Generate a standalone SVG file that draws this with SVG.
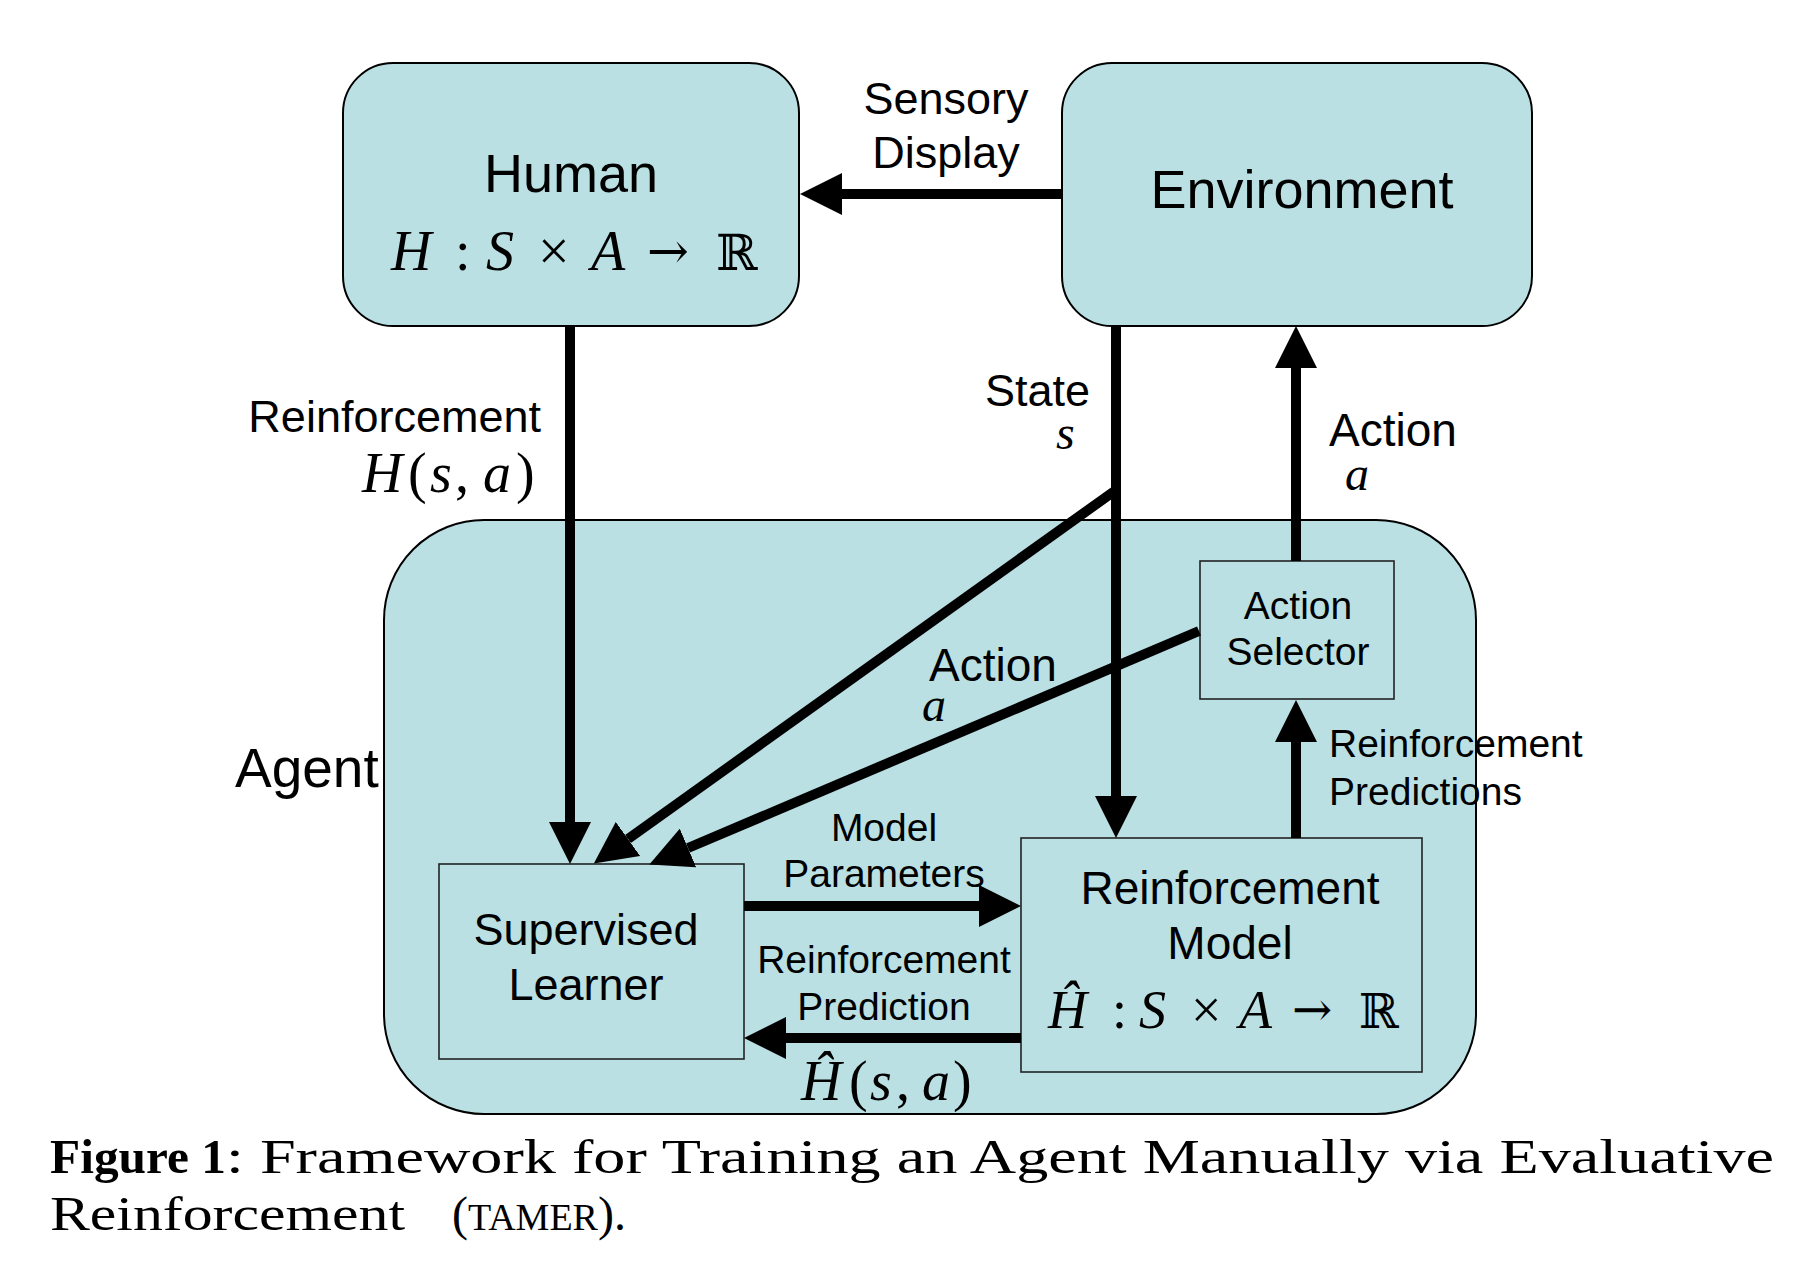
<svg xmlns="http://www.w3.org/2000/svg" width="1811" height="1274" viewBox="0 0 1811 1274">
<style>
.box{fill:#bae0e3;stroke:#000;stroke-width:2}
.ibox{fill:#bae0e3;stroke:#222;stroke-width:1.6}
.sans{font-family:"Liberation Sans",Arial,sans-serif;fill:#000}
.m{font-family:"Liberation Serif","Times New Roman",serif;font-style:italic;fill:#000}
.mu{font-family:"Liberation Serif","Times New Roman",serif;font-style:normal;fill:#000}
.bb{font-family:"DejaVu Serif",serif;font-style:normal;fill:#000}
.cap{font-family:"Liberation Serif","Times New Roman",serif;fill:#000;font-size:48px}
.ln{stroke:#000;stroke-width:10;fill:none}
</style>
<defs>
<marker id="ah" markerUnits="userSpaceOnUse" viewBox="0 0 42 42" markerWidth="42" markerHeight="42" refX="0" refY="21" orient="auto">
<path d="M0,0 L42,21 L0,42 z" fill="#000"/>
</marker>
</defs>

<g id="agent">
<rect class="box" x="384" y="520" width="1092" height="594" rx="100" ry="100"/>
<text class="sans" x="235" y="787" font-size="55">Agent</text>
</g>

<g id="human">
<rect class="box" x="343" y="63" width="456" height="263" rx="50" ry="50"/>
<text class="sans" x="571" y="192" font-size="54" text-anchor="middle">Human</text>
<text font-size="56"><tspan class="m" x="391" y="270">H</tspan><tspan class="mu" x="455" y="270">:</tspan><tspan class="m" x="486" y="270">S</tspan><tspan class="mu" x="538" y="270">×</tspan><tspan class="m" x="591" y="270">A</tspan><tspan class="bb" x="647" y="268" font-size="50">→</tspan><tspan class="bb" x="716" y="270" font-size="50">ℝ</tspan></text>
</g>

<g id="environment">
<rect class="box" x="1062" y="63" width="470" height="263" rx="50" ry="50"/>
<text class="sans" x="1302" y="208" font-size="54" text-anchor="middle">Environment</text>
</g>

<g id="action-selector">
<rect class="ibox" x="1200" y="561" width="194" height="138"/>
<text class="sans" x="1298" y="619" font-size="39" text-anchor="middle">Action</text>
<text class="sans" x="1298" y="665" font-size="39" text-anchor="middle">Selector</text>
</g>

<g id="supervised-learner">
<rect class="ibox" x="439" y="864" width="305" height="195"/>
<text class="sans" x="586" y="945" font-size="45" text-anchor="middle">Supervised</text>
<text class="sans" x="586" y="1000" font-size="45" text-anchor="middle">Learner</text>
</g>

<g id="reinforcement-model">
<rect class="ibox" x="1021" y="838" width="401" height="234"/>
<text class="sans" x="1230" y="904" font-size="46" text-anchor="middle">Reinforcement</text>
<text class="sans" x="1230" y="959" font-size="46" text-anchor="middle">Model</text>
<text font-size="54"><tspan class="m" x="1048" y="1028">Ĥ</tspan><tspan class="mu" x="1112" y="1028">:</tspan><tspan class="m" x="1139" y="1028">S</tspan><tspan class="mu" x="1191" y="1028">×</tspan><tspan class="m" x="1239" y="1028">A</tspan><tspan class="bb" x="1292" y="1026" font-size="48">→</tspan><tspan class="bb" x="1359" y="1028" font-size="48">ℝ</tspan></text>
</g>

<g id="connectors">
<line class="ln" x1="1062" y1="194" x2="842" y2="194" marker-end="url(#ah)"/>
<line class="ln" x1="570" y1="326" x2="570" y2="822" marker-end="url(#ah)"/>
<line class="ln" x1="1116" y1="326" x2="1116" y2="796" marker-end="url(#ah)"/>
<line class="ln" x1="1116" y1="490" x2="628" y2="839" marker-end="url(#ah)"/>
<line class="ln" x1="1199" y1="631" x2="688" y2="848" marker-end="url(#ah)"/>
<line class="ln" x1="1296" y1="561" x2="1296" y2="368" marker-end="url(#ah)"/>
<line class="ln" x1="1296" y1="838" x2="1296" y2="742" marker-end="url(#ah)"/>
<line class="ln" x1="744" y1="906" x2="979" y2="906" marker-end="url(#ah)"/>
<line class="ln" x1="1021" y1="1038" x2="786" y2="1038" marker-end="url(#ah)"/>
</g>

<g id="labels">
<text class="sans" x="946" y="114" font-size="45" text-anchor="middle">Sensory</text>
<text class="sans" x="946" y="168" font-size="45" text-anchor="middle">Display</text>
<text class="sans" x="541" y="432" font-size="45" text-anchor="end">Reinforcement</text>
<text font-size="56"><tspan class="m" x="362" y="492">H</tspan><tspan class="mu" x="408" y="492">(</tspan><tspan class="m" x="430" y="492">s</tspan><tspan class="mu" x="455" y="492">,</tspan><tspan class="m" x="483" y="492">a</tspan><tspan class="mu" x="516" y="492">)</tspan></text>
<text class="sans" x="1090" y="406" font-size="45" text-anchor="end">State</text>
<text class="m" x="1056" y="449" font-size="48">s</text>
<text class="sans" x="1329" y="446" font-size="46">Action</text>
<text class="m" x="1345" y="490" font-size="48">a</text>
<text class="sans" x="929" y="681" font-size="46">Action</text>
<text class="m" x="922" y="721" font-size="48">a</text>
<text class="sans" x="1329" y="757" font-size="39">Reinforcement</text>
<text class="sans" x="1329" y="805" font-size="39">Predictions</text>
<text class="sans" x="884" y="841" font-size="39" text-anchor="middle">Model</text>
<text class="sans" x="884" y="887" font-size="39" text-anchor="middle">Parameters</text>
<text class="sans" x="884" y="973" font-size="39" text-anchor="middle">Reinforcement</text>
<text class="sans" x="884" y="1020" font-size="39" text-anchor="middle">Prediction</text>
<text font-size="56"><tspan class="m" x="801" y="1100">Ĥ</tspan><tspan class="mu" x="849" y="1100">(</tspan><tspan class="m" x="870" y="1100">s</tspan><tspan class="mu" x="896" y="1100">,</tspan><tspan class="m" x="922" y="1100">a</tspan><tspan class="mu" x="953" y="1100">)</tspan></text>
</g>

<g id="caption">
<text class="cap" x="50" y="1173" font-weight="bold" textLength="176" lengthAdjust="spacingAndGlyphs">Figure 1</text>
<text class="cap" x="226" y="1173" textLength="1548" lengthAdjust="spacingAndGlyphs">: Framework for Training an Agent Manually via Evaluative</text>
<text class="cap" x="50" y="1230" textLength="355" lengthAdjust="spacingAndGlyphs">Reinforcement</text>
<text class="cap" x="452" y="1230">(<tspan font-size="38">TAMER</tspan>).</text>
</g>
</svg>
